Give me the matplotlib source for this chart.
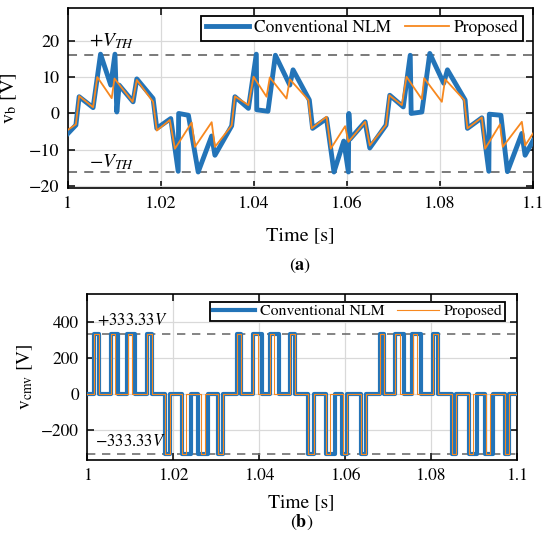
import matplotlib
matplotlib.use("Agg")
import matplotlib.pyplot as plt
import numpy as np

# ---- data ----
# (a) boost/bus voltage v_b [V], piecewise vertices
t_conv = [1.0000, 1.0017, 1.0024, 1.0054, 1.0070, 1.0092, 1.0101, 1.0105, 1.0110, 1.0140,
          1.0148, 1.0183, 1.0191, 1.0221, 1.0237, 1.0238, 1.0259, 1.0280, 1.0309, 1.0316,
          1.0352, 1.0359, 1.0388, 1.0405, 1.0406, 1.0430, 1.0446, 1.0477, 1.0484, 1.0519,
          1.0526, 1.0556, 1.0572, 1.0593, 1.0603, 1.0604, 1.0607, 1.0639, 1.0649, 1.0684,
          1.0692, 1.0721, 1.0736, 1.0738, 1.0761, 1.0778, 1.0808, 1.0816, 1.0854, 1.0859,
          1.0890, 1.0905, 1.0906, 1.0931, 1.0945, 1.0976, 1.0983, 1.1000]
v_conv = [-5.5, -3.2, 4.6, 1.6, 16.3, 7.8, 16.3, 0.4, 7.8, 3.2,
          9.5, 4.1, -4.1, -1.4, -15.9, 0.0, -0.5, -16.1, -6.2, -11.5,
          -3.4, 4.6, 1.4, 16.3, 1.0, 0.6, 16.0, 7.8, 12.0, 3.7,
          -4.1, -1.4, -16.1, -7.6, -16.1, 0.0, -7.0, -2.3, -9.5, -3.2,
          5.0, 1.8, 16.0, 0.0, 0.4, 16.5, 8.3, 12.0, 3.7, -4.1,
          -1.2, -15.9, -0.2, -0.5, -16.0, -5.5, -11.5, -7.5]

t_prop = [1.0000, 1.0017, 1.0024, 1.0054, 1.0063, 1.0094, 1.0100, 1.0139, 1.0148, 1.0183,
          1.0191, 1.0219, 1.0230, 1.0266, 1.0273, 1.0309, 1.0316, 1.0352, 1.0359, 1.0388,
          1.0399, 1.0427, 1.0434, 1.0470, 1.0477, 1.0517, 1.0524, 1.0556, 1.0565, 1.0596,
          1.0603, 1.0639, 1.0649, 1.0684, 1.0691, 1.0718, 1.0728, 1.0761, 1.0766, 1.0804,
          1.0811, 1.0852, 1.0859, 1.0890, 1.0897, 1.0929, 1.0935, 1.0976, 1.0983, 1.1000]
v_prop = [-4.5, -3.0, 4.8, 1.7, 10.0, 4.2, 9.6, 3.2, 9.2, 3.2,
          -4.7, -1.8, -9.7, -2.5, -9.2, -2.4, -9.2, -3.3, 4.7, 2.3,
          10.1, 4.6, 9.9, 4.1, 9.4, 3.7, -4.1, -0.9, -9.7, -3.5,
          -7.8, -2.3, -8.8, -3.2, 5.0, 2.3, 10.1, 3.9, 9.7, 3.2,
          9.4, 3.7, -4.1, -1.1, -9.7, -3.0, -9.2, -2.3, -8.8, -5.5]

V_TH = 16.0

# (b) common-mode voltage: switching instants and level held after each instant
VDC3 = 333.33
cmv_conv_t = [1.0000, 1.0016, 1.0027, 1.0055, 1.0072, 1.0092, 1.0111, 1.0138, 1.0150,
              1.0182, 1.0193, 1.0220, 1.0241, 1.0257, 1.0281, 1.0305, 1.0317,
              1.0349, 1.0359, 1.0387, 1.0406, 1.0425, 1.0446, 1.0473, 1.0484,
              1.0515, 1.0527, 1.0556, 1.0576, 1.0593, 1.0605, 1.0637, 1.0649,
              1.0681, 1.0692, 1.0716, 1.0737, 1.0756, 1.0778, 1.0805, 1.0816,
              1.0849, 1.0859, 1.0889, 1.0907, 1.0927, 1.0945, 1.0972, 1.0983, 1.1000]
cmv_conv_v = [0, VDC3, 0, VDC3, 0, VDC3, 0, VDC3, 0,
              -VDC3, 0, -VDC3, 0, -VDC3, 0, -VDC3, 0,
              VDC3, 0, VDC3, 0, VDC3, 0, VDC3, 0,
              -VDC3, 0, -VDC3, 0, -VDC3, 0, -VDC3, 0,
              VDC3, 0, VDC3, 0, VDC3, 0, VDC3, 0,
              -VDC3, 0, -VDC3, 0, -VDC3, 0, -VDC3, 0, 0]

cmv_prop_t = [1.0000, 1.0016, 1.0027, 1.0055, 1.0064, 1.0094, 1.0103, 1.0138, 1.0150,
              1.0182, 1.0193, 1.0220, 1.0231, 1.0264, 1.0274, 1.0305, 1.0317,
              1.0349, 1.0359, 1.0387, 1.0398, 1.0426, 1.0435, 1.0472, 1.0484,
              1.0515, 1.0527, 1.0556, 1.0566, 1.0595, 1.0605, 1.0637, 1.0649,
              1.0681, 1.0692, 1.0716, 1.0728, 1.0759, 1.0768, 1.0805, 1.0816,
              1.0849, 1.0859, 1.0889, 1.0898, 1.0928, 1.0937, 1.0972, 1.0983, 1.1000]
cmv_prop_v = cmv_conv_v

xticks = [1.0, 1.02, 1.04, 1.06, 1.08, 1.1]
xticklabels = ["1", "1.02", "1.04", "1.06", "1.08", "1.1"]

BLUE = "#2374b8"
ORANGE = "#f7881f"
DASH = "#6f6f6f"

plt.rcParams["font.family"] = ["STIXGeneral", "DejaVu Serif"]
plt.rcParams["mathtext.fontset"] = "stix"

fig = plt.figure(figsize=(5.5, 5.47), dpi=100)
ax1 = fig.add_axes([0.1236, 0.6563, 0.8455, 0.3291])
ax2 = fig.add_axes([0.1587, 0.159, 0.7805, 0.3035])


def style(ax, fs):
    ax.set_xlim(1.0, 1.1)
    ax.set_xticks(xticks)
    ax.set_xticklabels(xticklabels)
    ax.tick_params(direction="in", top=True, right=True, length=5, width=1.1,
                   labelsize=fs, pad=6)
    ax.grid(True, color="#d9d9d9", lw=0.9)
    ax.set_axisbelow(True)
    for s in ax.spines.values():
        s.set_linewidth(1.2)


# ---- (a) ----
ax1.axhline(V_TH, color=DASH, ls=(0, (5, 4)), lw=1.3, zorder=1)
ax1.axhline(-V_TH, color=DASH, ls=(0, (5, 4)), lw=1.3, zorder=1)
ax1.plot(t_conv, v_conv, color=BLUE, lw=3.5, label="Conventional NLM", zorder=3)
ax1.plot(t_prop, v_prop, color=ORANGE, lw=1.3, label="Proposed", zorder=4)
ax1.set_ylim(-20.5, 29)
ax1.set_yticks([-20, -10, 0, 10, 20])
ax1.set_yticklabels(["\u221220", "\u221210", "0", "10", "20"])
style(ax1, 13)
ax1.set_ylabel(r"$\mathrm{v}_\mathrm{b}$ [V]", fontsize=14.5)
ax1.yaxis.set_label_coords(-0.105, 0.5)
ax1.text(1.0045, 19.9, r"$+V_{TH}$", fontsize=14, ha="left", va="center")
ax1.text(1.0045, -13.3, r"$-V_{TH}$", fontsize=14, ha="left", va="center")
leg1 = ax1.legend(loc="upper right", bbox_to_anchor=(0.9785, 0.956), ncol=2,
                  fontsize=12.5, frameon=True, fancybox=False, framealpha=1,
                  edgecolor="black", borderaxespad=0, handlelength=2.5,
                  handletextpad=0.3, columnspacing=0.8, borderpad=0.25)
leg1.get_frame().set_linewidth(1.3)

# ---- (b) ----
ax2.axhline(VDC3, color=DASH, ls=(0, (5, 4)), lw=1.2, zorder=1)
ax2.axhline(-VDC3, color=DASH, ls=(0, (5, 4)), lw=1.2, zorder=1)
ax2.plot(cmv_conv_t, cmv_conv_v, color=BLUE, lw=3.0, drawstyle="steps-post",
         label="Conventional NLM", zorder=3)
ax2.plot(cmv_prop_t, cmv_prop_v, color=ORANGE, lw=0.8, drawstyle="steps-post",
         label="Proposed", zorder=4)
ax2.set_ylim(-365, 552)
ax2.set_yticks([-200, 0, 200, 400])
ax2.set_yticklabels(["\u2212200", "0", "200", "400"])
style(ax2, 12.5)
ax2.set_ylabel(r"$\mathrm{v}_\mathrm{cmv}$ [V]", fontsize=14)
ax2.yaxis.set_label_coords(-0.122, 0.5)
ax2.text(1.0023, 403, r"$+333.33V$", fontsize=12, ha="left", va="center")
ax2.text(1.0018, -263, r"$-333.33V$", fontsize=12, ha="left", va="center")
leg2 = ax2.legend(loc="upper right", bbox_to_anchor=(0.973, 0.952), ncol=2,
                  fontsize=11.3, frameon=True, fancybox=False, framealpha=1,
                  edgecolor="black", borderaxespad=0, handlelength=2.7,
                  handletextpad=0.3, columnspacing=0.8, borderpad=0.15)
leg2.get_frame().set_linewidth(1.3)

fig.text(0.546, 0.570, "Time [s]", fontsize=14.5, ha="center", va="center")
fig.text(0.546, 0.5137, r"($\mathbf{a}$)", fontsize=13, ha="center", va="center")
fig.text(0.548, 0.0804, "Time [s]", fontsize=14, ha="center", va="center")
fig.text(0.548, 0.0457, r"($\mathbf{b}$)", fontsize=13, ha="center", va="center")

fig.savefig("out.png", dpi=100)
